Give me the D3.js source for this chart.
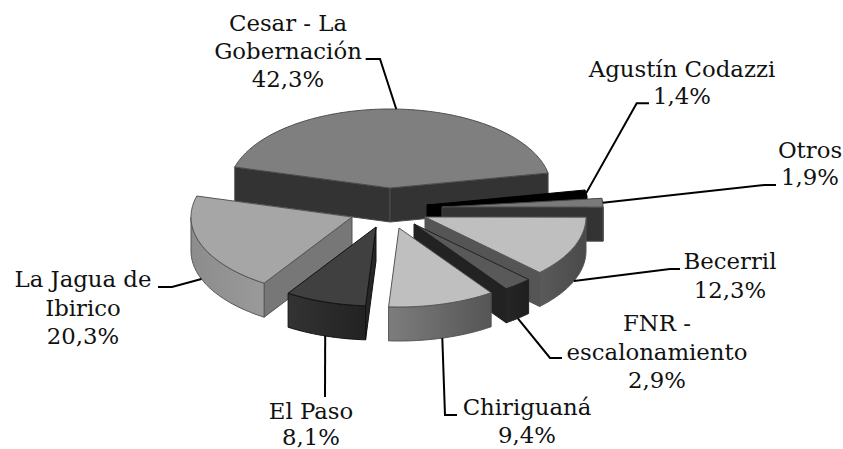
<!DOCTYPE html>
<html><head><meta charset="utf-8">
<script src="https://cdn.jsdelivr.net/npm/d3@7"></script>
<style>html,body{margin:0;padding:0;background:#fff;overflow:hidden}
text{font-family:"DejaVu Serif",serif;font-size:22.8px;fill:#111}</style>
</head><body><svg id="c" width="843" height="449"></svg>
<script>
// data
const categories = ["Cesar - La Gobernación","Agustín Codazzi","Otros","Becerril","FNR - escalonamiento","Chiriguaná","El Paso","La Jagua de Ibirico"];
const values = [42.3,1.4,1.9,12.3,2.9,9.4,8.1,20.3];
const labelLines = [["Cesar - La","Gobernación","42,3%"],["Agustín Codazzi","1,4%"],["Otros","1,9%"],["Becerril","12,3%"],["FNR -","escalonamiento","2,9%"],["Chiriguaná","9,4%"],["El Paso","8,1%"],["La Jagua de","Ibirico","20,3%"]];
// layout / style
const deg = Math.PI/180, startDeg = -74.6;
const centre = [392,210], RX = 161, RY = 79, H = 34;
const explodeX = [-2,35,50,33,22,7,-16,-40];
const explodeY = [-22,-5,-3,7,14,18,17,7];
const endNudge = [-0.8,-1.3,-1.8,-2.2,-2.3,2,1.8,0];
const drawOrder = [0,1,2,3,4,7,6,5];
const topFill = ["#7f7f7f","#000","#7a7a7a","#bfbfbf","#595959","#bfbfbf","#404040","#a6a6a6"];
const faceFill = ["#333","#000","#333","#555","#222","#555","#262626","#777"];
const wallFrom = ["#333","#000","#333","#5a5a5a","#262626","#7d7d7d","#333","#8c8c8c"];
const wallTo = ["#333","#000","#333","#4a4a4a","#1e1e1e","#555","#222","#9a9a9a"];
const strokeCol = ["#4d4d4d","#000","#444","#555","#222","#555","#111","#555"];
const labelX = [288,682,810,730,657,527,311,83];
const labelY = [31,77,158,269,331,415,419,287];
const lineGap = [28,27,27,29,28.5,28,26,28.5];
const elbowX = [[380,365.7],[636.7,649],[765,776],[670,680],[550,562],[445,457],[325],[172,158]];
const elbowY = [[59,59],[103.3,103.3],[185,185],[269,269],[358,358],[415,415],[397],[287,287]];

const svg = d3.select("#c");
const defs = svg.append("defs");
const pie = d3.pie().sort(null).startAngle(startDeg*deg).endAngle((startDeg+360)*deg);
const arcs = pie(values).map((d,i)=>{
  const prev = i? endNudge[i-1]:0;
  return {i, t0:d.startAngle+prev*deg, t1:d.endAngle+endNudge[i]*deg,
    cx:centre[0]+explodeX[i], cy:centre[1]+explodeY[i]};
});
const pt=(a,t,z=0)=>[a.cx+RX*Math.sin(t), a.cy-RY*Math.cos(t)+z];
const line=d3.line();
const sample=(t0,t1)=>{const n=Math.max(2,Math.ceil((t1-t0)/deg));return d3.range(n+1).map(k=>t0+(t1-t0)*k/n);};

arcs.forEach(a=>{
  const g=defs.append("linearGradient").attr("id","w"+a.i).attr("gradientUnits","objectBoundingBox");
  g.append("stop").attr("offset",0).attr("stop-color",wallFrom[a.i]);
  g.append("stop").attr("offset",1).attr("stop-color",wallTo[a.i]);
});

const layer=svg.append("g");
drawOrder.forEach(i=>{
  const a=arcs[i], g=layer.append("g").attr("stroke",strokeCol[i]).attr("stroke-width",1).attr("stroke-linejoin","round");
  const apex=[a.cx,a.cy], apexB=[a.cx,a.cy+H];
  const face=t=>line([apex,pt(a,t),pt(a,t,H),apexB])+"Z";
  if(Math.sin(a.t0)<0) g.append("path").attr("d",face(a.t0)).attr("fill",faceFill[i]);
  if(Math.sin(a.t1)>0) g.append("path").attr("d",face(a.t1)).attr("fill",faceFill[i]);
  const lo=Math.max(a.t0,90*deg), hi=Math.min(a.t1,270*deg);
  if(hi>lo){
    const ts=sample(lo,hi);
    g.append("path").attr("d",line([...ts.map(t=>pt(a,t)),...ts.slice().reverse().map(t=>pt(a,t,H))])+"Z")
      .attr("fill",`url(#w${i})`);
  }
  g.append("path").attr("d",line([apex,...sample(a.t0,a.t1).map(t=>pt(a,t))])+"Z").attr("fill",topFill[i]);
});

// leaders
arcs.forEach(a=>{
  const tm=(a.t0+a.t1)/2, c=Math.cos(tm);
  const start=pt(a,tm,c<0?H:0);
  const pts=[start,...elbowX[a.i].map((x,k)=>[x,elbowY[a.i][k]])];
  svg.append("path").attr("d",line(pts)).attr("fill","none").attr("stroke","#000").attr("stroke-width",2);
});
// labels
labelLines.forEach((ls,i)=>{
  const t=svg.append("text").attr("text-anchor","middle");
  ls.forEach((s,k)=>t.append("tspan").attr("x",labelX[i]).attr("y",labelY[i]+k*lineGap[i]).text(s));
});
</script></body></html>
